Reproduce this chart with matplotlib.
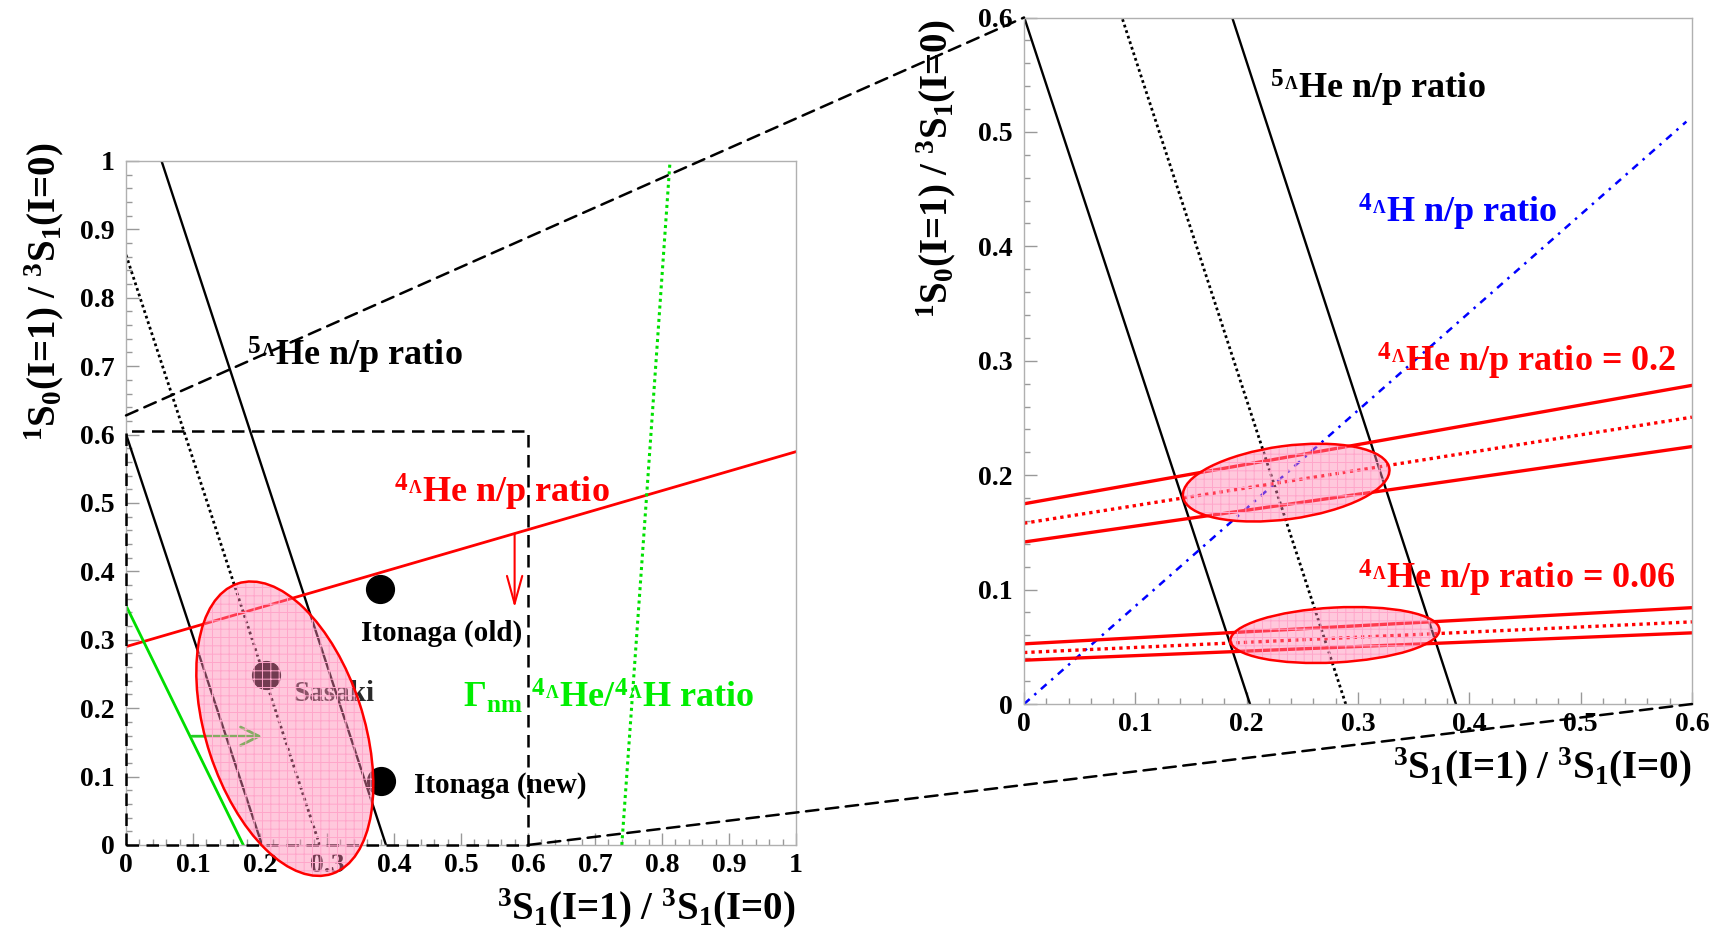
import numpy as np
import matplotlib
matplotlib.use('Agg')
import matplotlib.pyplot as plt
from matplotlib.patches import Ellipse, ConnectionPatch, Rectangle
from matplotlib.ticker import MultipleLocator

plt.rcParams['font.family'] = ['Liberation Serif', 'DejaVu Serif']
plt.rcParams['font.weight'] = 'bold'
plt.rcParams['mathtext.fontset'] = 'custom'
plt.rcParams['mathtext.rm'] = 'Liberation Serif:bold'
plt.rcParams['mathtext.it'] = 'Liberation Serif:bold'
plt.rcParams['mathtext.bf'] = 'Liberation Serif:bold'
plt.rcParams['hatch.linewidth'] = 0.7

# ---------------- data ----------------
# 5ΛHe n/p band : x at y=0 and dx/dy (lower bound, central, upper bound)
he5_x0 = [0.203, 0.289, 0.388]
he5_slope = [-0.338, -0.335, -0.335]

# left panel
he4_x = [0.0, 1.0]
he4_y = [0.29, 0.575]
gnm_x = [0.0, 0.175]
gnm_y = [0.35, 0.0]
hratio_x = [0.74, 0.777, 0.812]
hratio_y = [0.0, 0.51, 1.0]

pt_names = ['Itonaga (old)', 'Sasaki', 'Itonaga (new)']
pt_x = [0.379, 0.209, 0.381]
pt_y = [0.374, 0.248, 0.094]

ell_left = (0.237, 0.17, 0.235, 0.447, 18.5)  # cx, cy, w, h, angle

# right panel
band_x = [0.0, 0.6]
band02_hi = [0.175, 0.2785]
band02_mid = [0.158, 0.2507]
band02_lo = [0.1416, 0.225]
band006_hi = [0.0526, 0.0842]
band006_mid = [0.045, 0.0718]
band006_lo = [0.0383, 0.0622]
h4_x = [0.0, 0.595]
h4_y = [0.0, 0.509]

ell_right = [(0.2355, 0.1935, 0.187, 0.064, 7.5),
             (0.2793, 0.0603, 0.188, 0.048, 3.0)]

left_ticks = [0, 0.1, 0.2, 0.3, 0.4, 0.5, 0.6, 0.7, 0.8, 0.9, 1.0]
left_labels = ['0', '0.1', '0.2', '0.3', '0.4', '0.5', '0.6', '0.7', '0.8', '0.9', '1']
right_ticks = [0, 0.1, 0.2, 0.3, 0.4, 0.5, 0.6]
right_labels = ['0', '0.1', '0.2', '0.3', '0.4', '0.5', '0.6']

LAM = r'$^{{}_{\Lambda}}$'
XTITLE = r'$^{3}$S$_{1}$(I=1) / $^{3}$S$_{1}$(I=0)'
YTITLE = r'$^{1}$S$_{0}$(I=1) / $^{3}$S$_{1}$(I=0)'

PINK = (1.0, 0.52, 0.70, 0.45)
GRIDPINK = '#ffa6ca'


def style_axes(ax, ticks, labels, lim):
    ax.set_xlim(0, lim)
    ax.set_ylim(0, lim)
    for sp in ax.spines.values():
        sp.set_color('#b0b0b0')
        sp.set_linewidth(1.0)
    ax.set_xticks(ticks)
    ax.set_xticklabels(labels)
    ax.set_yticks(ticks)
    ax.set_yticklabels(labels)
    ax.xaxis.set_minor_locator(MultipleLocator(0.02))
    ax.yaxis.set_minor_locator(MultipleLocator(0.02))
    ax.tick_params(which='major', direction='in', length=9, width=1,
                   color='#999999', labelsize=20, pad=6)
    ax.tick_params(which='minor', direction='in', length=4.5, width=1,
                   color='#999999')
    ax.tick_params(axis='y', which='major', pad=8)


def he5_lines(ax):
    yy = np.array([0.0, 1.0])
    for i, (x0, s) in enumerate(zip(he5_x0, he5_slope)):
        if i == 1:
            ax.plot(x0 + s * yy, yy, color='black', lw=2.0,
                    ls=(0, (1.0, 1.1)), zorder=2)
        else:
            ax.plot(x0 + s * yy, yy, color='black', lw=1.7, zorder=2)


def pink_ellipse(ax, e, lw=1.8):
    cx, cy, w, h, ang = e
    ax.add_patch(Ellipse((cx, cy), w, h, angle=ang, facecolor=PINK,
                         edgecolor='none', zorder=4, clip_on=False))
    ax.add_patch(Ellipse((cx, cy), w, h, angle=ang, fill=False, hatch='++',
                         edgecolor=GRIDPINK, lw=0, zorder=4.1, clip_on=False))
    ax.add_patch(Ellipse((cx, cy), w, h, angle=ang, fill=False,
                         edgecolor='red', lw=lw, zorder=5, clip_on=False))


fig = plt.figure(figsize=(17.17, 9.31), dpi=100)
ax1 = fig.add_axes([0.0734, 0.0924, 0.3902, 0.7347])
ax2 = fig.add_axes([0.5964, 0.2438, 0.3890, 0.7374])

# ---------------- left panel ----------------
style_axes(ax1, left_ticks, left_labels, 1.0)
he5_lines(ax1)
ax1.plot(he4_x, he4_y, color='red', lw=2.0, zorder=2)
ax1.plot(gnm_x, gnm_y, color='#00dd00', lw=2.0, zorder=2)
ax1.plot(hratio_x, hratio_y, color='#00e000', lw=2.2, ls=(0, (1, 1.2)), zorder=2)

ax1.annotate('', xy=(0.58, 0.347), xytext=(0.58, 0.455),
             arrowprops=dict(arrowstyle='->,head_length=0.8,head_width=0.22',
                             color='red', lw=1.5, mutation_scale=25,
                             shrinkA=0, shrinkB=0), zorder=3)
ax1.annotate('', xy=(0.203, 0.159), xytext=(0.098, 0.159),
             arrowprops=dict(arrowstyle='->,head_length=0.6,head_width=0.3',
                             color='#22cc22', lw=2.0, mutation_scale=22,
                             shrinkA=0, shrinkB=0), zorder=3)

ax1.plot(pt_x, pt_y, 'o', color='black', ms=20, zorder=3)
ax1.text(0.351, 0.299, pt_names[0], fontsize=21, color='black', zorder=3)
ax1.text(0.25, 0.211, pt_names[1], fontsize=21, color='#2a2a2a', zorder=3)
ax1.text(0.43, 0.077, pt_names[2], fontsize=21, color='black', zorder=3)

ax1.text(0.18, 0.70, r'$^{5}$' + LAM + 'He n/p ratio', fontsize=26,
         color='black', zorder=3)
ax1.text(0.40, 0.50, r'$^{4}$' + LAM + 'He n/p ratio', fontsize=26,
         color='red', zorder=3)
ax1.text(0.503, 0.20, r'$\Gamma_{\rm nm}$ $^{4}$' + LAM + r'He/$^{4}$' + LAM + 'H ratio',
         fontsize=26, color='#00ee00', zorder=3)

ax1.add_patch(Rectangle((0, 0), 0.6, 0.605, fill=False, edgecolor='black',
                        lw=1.8, ls=(0, (5, 3)), zorder=3, clip_on=False))
pink_ellipse(ax1, ell_left)

# ---------------- right panel ----------------
style_axes(ax2, right_ticks, right_labels, 0.6)
he5_lines(ax2)
ax2.plot(h4_x, h4_y, color='blue', lw=1.8, ls=(0, (3, 2.5, 1, 2.5)), zorder=2)
for band in (band02_hi, band02_lo, band006_hi, band006_lo):
    ax2.plot(band_x, band, color='red', lw=2.4, zorder=2)
for band in (band02_mid, band006_mid):
    ax2.plot(band_x, band, color='red', lw=2.4, ls=(0, (1, 1.2)), zorder=2)
for e in ell_right:
    pink_ellipse(ax2, e)

ax2.text(0.221, 0.529, r'$^{5}$' + LAM + 'He n/p ratio', fontsize=26,
         color='black', zorder=3)
ax2.text(0.30, 0.421, r'$^{4}$' + LAM + 'H n/p ratio', fontsize=26,
         color='blue', zorder=3)
ax2.text(0.3175, 0.29, r'$^{4}$' + LAM + 'He n/p ratio = 0.2', fontsize=26,
         color='red', zorder=3)
ax2.text(0.30, 0.1005, r'$^{4}$' + LAM + 'He n/p ratio = 0.06', fontsize=26,
         color='red', zorder=3)

# axis titles
fig.text(0.4636, 0.012, XTITLE, fontsize=28, ha='right', va='baseline')
fig.text(0.9854, 0.164, XTITLE, fontsize=28, ha='right', va='baseline')
fig.text(0.0256, 0.8475, YTITLE, fontsize=28, ha='center', va='top', rotation=90)
fig.text(0.545, 0.979, YTITLE, fontsize=28, ha='center', va='top', rotation=90)

# zoom connectors
for pa, pb in (((0.0, 0.628), (0.0, 0.6)), ((0.6, 0.0), (0.6, 0.0))):
    con = ConnectionPatch(xyA=pa, coordsA=ax1.transData, xyB=pb,
                          coordsB=ax2.transData, color='black', lw=1.8,
                          ls=(0, (5, 3)), zorder=10)
    fig.add_artist(con)

fig.savefig('out.png', dpi=100)
